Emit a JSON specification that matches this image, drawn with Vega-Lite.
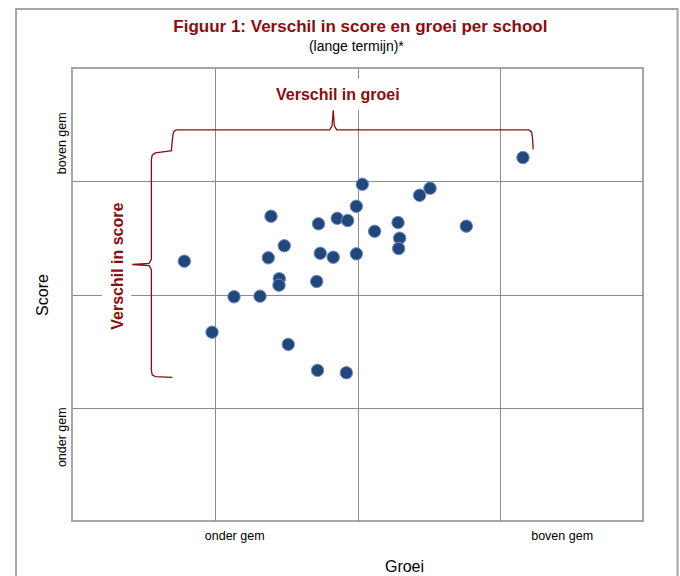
{
  "$schema": "https://vega.github.io/schema/vega-lite/v6.json",
  "width": 571,
  "height": 453,
  "autosize": {"type": "none"},
  "padding": {"left": 72, "top": 68, "right": 37, "bottom": 55},
  "background": "white",
  "config": {
    "font": "Liberation Sans",
    "view": {"stroke": "#a6a6a6", "strokeWidth": 2}
  },
  "datasets": {
    "points": [
      {"groei": 0.787, "score": 2.294},
      {"groei": 0.981, "score": 1.667},
      {"groei": 1.135, "score": 1.980},
      {"groei": 1.317, "score": 1.985},
      {"groei": 1.375, "score": 2.324},
      {"groei": 1.394, "score": 2.691},
      {"groei": 1.487, "score": 2.430},
      {"groei": 1.452, "score": 2.139},
      {"groei": 1.450, "score": 2.082},
      {"groei": 1.515, "score": 1.559},
      {"groei": 1.714, "score": 2.115},
      {"groei": 1.720, "score": 1.330},
      {"groei": 1.727, "score": 2.624},
      {"groei": 1.739, "score": 2.364},
      {"groei": 1.830, "score": 2.329},
      {"groei": 1.858, "score": 2.673},
      {"groei": 1.931, "score": 2.653},
      {"groei": 1.922, "score": 1.309},
      {"groei": 1.992, "score": 2.779},
      {"groei": 1.992, "score": 2.359},
      {"groei": 2.034, "score": 2.973},
      {"groei": 2.120, "score": 2.558},
      {"groei": 2.284, "score": 2.635},
      {"groei": 2.295, "score": 2.497},
      {"groei": 2.288, "score": 2.406},
      {"groei": 2.435, "score": 2.876},
      {"groei": 2.508, "score": 2.938},
      {"groei": 2.762, "score": 2.603},
      {"groei": 3.159, "score": 3.209}
    ],
    "braces": [
      {"brace": "groei", "i": 0, "groei": 0.696, "score": 3.273},
      {"brace": "groei", "i": 1, "groei": 0.706, "score": 3.400},
      {"brace": "groei", "i": 2, "groei": 0.713, "score": 3.440},
      {"brace": "groei", "i": 3, "groei": 0.730, "score": 3.453},
      {"brace": "groei", "i": 4, "groei": 1.805, "score": 3.453},
      {"brace": "groei", "i": 5, "groei": 1.822, "score": 3.490},
      {"brace": "groei", "i": 6, "groei": 1.830, "score": 3.626},
      {"brace": "groei", "i": 7, "groei": 1.838, "score": 3.490},
      {"brace": "groei", "i": 8, "groei": 1.855, "score": 3.453},
      {"brace": "groei", "i": 9, "groei": 3.200, "score": 3.453},
      {"brace": "groei", "i": 10, "groei": 3.220, "score": 3.435},
      {"brace": "groei", "i": 11, "groei": 3.226, "score": 3.380},
      {"brace": "groei", "i": 12, "groei": 3.231, "score": 3.280},
      {"brace": "score", "i": 0, "groei": 0.703, "score": 3.270},
      {"brace": "score", "i": 1, "groei": 0.584, "score": 3.250},
      {"brace": "score", "i": 2, "groei": 0.562, "score": 3.230},
      {"brace": "score", "i": 3, "groei": 0.556, "score": 3.190},
      {"brace": "score", "i": 4, "groei": 0.556, "score": 2.310},
      {"brace": "score", "i": 5, "groei": 0.540, "score": 2.275},
      {"brace": "score", "i": 6, "groei": 0.422, "score": 2.265},
      {"brace": "score", "i": 7, "groei": 0.540, "score": 2.255},
      {"brace": "score", "i": 8, "groei": 0.556, "score": 2.220},
      {"brace": "score", "i": 9, "groei": 0.556, "score": 1.330},
      {"brace": "score", "i": 10, "groei": 0.562, "score": 1.290},
      {"brace": "score", "i": 11, "groei": 0.584, "score": 1.275},
      {"brace": "score", "i": 12, "groei": 0.703, "score": 1.268}
    ]
  },
  "layer": [
    {
      "data": {"values": [{}]},
      "mark": {"type": "rect", "filled": false, "fill": "transparent", "fillOpacity": 0, "stroke": "#a6a6a6", "strokeWidth": 2, "clip": false},
      "encoding": {
        "x": {"datum": -0.392, "type": "quantitative", "scale": {"domain": [0, 4], "nice": false}},
        "x2": {"datum": 4.242},
        "y": {"datum": 4.52, "type": "quantitative", "scale": {"domain": [0, 4], "nice": false}},
        "y2": {"datum": -0.6}
      }
    },
    {
      "data": {"name": "points"},
      "mark": {"type": "circle", "size": 155, "opacity": 1, "color": "#21477d", "stroke": "#7090c0", "strokeWidth": 1},
      "encoding": {
        "x": {
          "field": "groei", "type": "quantitative",
          "scale": {"domain": [0, 4], "nice": false},
          "axis": {
            "title": "Groei",
            "values": [1, 1.136, 2, 3, 3.43],
            "labelExpr": "datum.value == 1.136 ? 'onder gem' : (datum.value == 3.43 ? 'boven gem' : '')",
            "ticks": false,
            "domain": false,
            "grid": true,
            "labelOverlap": false,
            "labelFlush": false,
            "labelPadding": 8,
            "labelFontSize": 12.5,
            "labelColor": "#000000",
            "gridColor": {"condition": {"test": "datum.value == 1 || datum.value == 2 || datum.value == 3", "value": "#8c8c8c"}, "value": "transparent"},
            "gridWidth": 1,
            "titleFontSize": 16,
            "titleFontWeight": "normal",
            "titleColor": "#000000",
            "titleX": 332,
            "titlePadding": 17
          }
        },
        "y": {
          "field": "score", "type": "quantitative",
          "scale": {"domain": [0, 4], "nice": false},
          "axis": {
            "title": "Score",
            "values": [0.744, 1, 2, 3, 3.34],
            "labelExpr": "datum.value == 0.744 ? 'onder gem' : (datum.value == 3.34 ? 'boven gem' : '')",
            "labelAngle": -90,
            "labelAlign": "center",
            "labelBaseline": "bottom",
            "ticks": false,
            "domain": false,
            "grid": true,
            "labelOverlap": false,
            "labelFlush": false,
            "labelPadding": 4,
            "labelFontSize": 12.5,
            "labelColor": "#000000",
            "gridColor": {"condition": {"test": "datum.value == 1 || datum.value == 2 || datum.value == 3", "value": "#8c8c8c"}, "value": "transparent"},
            "gridWidth": 1,
            "titleFontSize": 16,
            "titleFontWeight": "normal",
            "titleColor": "#000000",
            "titlePadding": 5
          }
        }
      }
    },
    {
      "data": {"values": [{}]},
      "mark": {"type": "rect", "fill": "white", "stroke": null},
      "encoding": {
        "x": {"datum": 1.349, "type": "quantitative", "scale": {"domain": [0, 4], "nice": false}},
        "x2": {"datum": 2.398},
        "y": {"datum": 3.905, "type": "quantitative", "scale": {"domain": [0, 4], "nice": false}},
        "y2": {"datum": 3.632}
      }
    },
    {
      "data": {"values": [{}]},
      "mark": {"type": "rect", "fill": "white", "stroke": null},
      "encoding": {
        "x": {"datum": 0.21, "type": "quantitative", "scale": {"domain": [0, 4], "nice": false}},
        "x2": {"datum": 0.415},
        "y": {"datum": 2.879, "type": "quantitative", "scale": {"domain": [0, 4], "nice": false}},
        "y2": {"datum": 1.647}
      }
    },
    {
      "data": {"name": "braces"},
      "mark": {"type": "line", "color": "#8b0d0d", "strokeWidth": 1.3, "interpolate": "linear"},
      "encoding": {
        "x": {"field": "groei", "type": "quantitative", "scale": {"domain": [0, 4], "nice": false}},
        "y": {"field": "score", "type": "quantitative", "scale": {"domain": [0, 4], "nice": false}},
        "detail": {"field": "brace"},
        "order": {"field": "i", "type": "quantitative"}
      }
    },
    {
      "data": {"values": [{}]},
      "mark": {"type": "text", "text": "Verschil in groei", "font": "Liberation Sans", "fontSize": 16, "fontWeight": "bold", "color": "#8b0d0d", "align": "center", "baseline": "middle"},
      "encoding": {
        "x": {"datum": 1.862, "type": "quantitative", "scale": {"domain": [0, 4], "nice": false}},
        "y": {"datum": 3.764, "type": "quantitative", "scale": {"domain": [0, 4], "nice": false}}
      }
    },
    {
      "data": {"values": [{}]},
      "mark": {"type": "text", "text": "Verschil in score", "font": "Liberation Sans", "fontSize": 16, "fontWeight": "bold", "color": "#8b0d0d", "align": "center", "baseline": "middle", "angle": 270},
      "encoding": {
        "x": {"datum": 0.322, "type": "quantitative", "scale": {"domain": [0, 4], "nice": false}},
        "y": {"datum": 2.25, "type": "quantitative", "scale": {"domain": [0, 4], "nice": false}}
      }
    },
    {
      "data": {"values": [{}]},
      "mark": {"type": "text", "text": "Figuur 1: Verschil in score en groei per school", "font": "Liberation Sans", "fontSize": 17, "fontWeight": "bold", "color": "#8b0d0d", "align": "center", "baseline": "middle", "clip": false},
      "encoding": {
        "x": {"datum": 2.02, "type": "quantitative", "scale": {"domain": [0, 4], "nice": false}},
        "y": {"datum": 4.362, "type": "quantitative", "scale": {"domain": [0, 4], "nice": false}}
      }
    },
    {
      "data": {"values": [{}]},
      "mark": {"type": "text", "text": "(lange termijn)*", "font": "Liberation Sans", "fontSize": 14, "color": "#000000", "align": "center", "baseline": "middle", "clip": false},
      "encoding": {
        "x": {"datum": 1.992, "type": "quantitative", "scale": {"domain": [0, 4], "nice": false}},
        "y": {"datum": 4.185, "type": "quantitative", "scale": {"domain": [0, 4], "nice": false}}
      }
    }
  ]
}
